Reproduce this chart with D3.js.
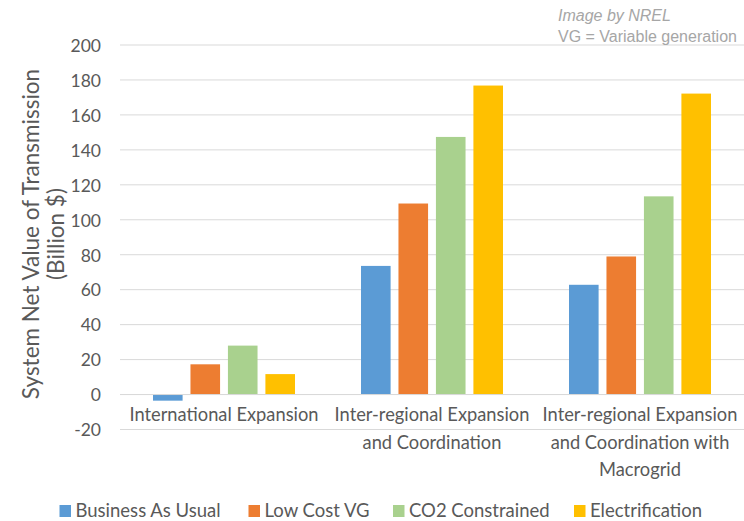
<!DOCTYPE html>
<html>
<head>
<meta charset="utf-8">
<script src="https://cdn.jsdelivr.net/npm/d3@7"></script>
<style>
  html, body { margin: 0; padding: 0; background: #fff; }
  svg { display: block; }
</style>
</head>
<body>
<svg id="chart" width="744" height="521"></svg>
<script>
// Scenario groups (multi-line labels) and series
const categories = [
  ["International Expansion"],
  ["Inter-regional Expansion", "and Coordination"],
  ["Inter-regional Expansion", "and Coordination with", "Macrogrid"]
];
const seriesNames = ["Business As Usual", "Low Cost VG", "CO2 Constrained", "Electrification"];
const seriesColors = ["#5b9bd5", "#ed7d31", "#a9d18e", "#ffc000"];

// Net value of transmission, billion $, per series across the three scenarios
const businessAsUsual = [-3.5, 73.6, 62.8];
const lowCostVG       = [17.3, 109.3, 79.0];
const co2Constrained  = [28.0, 147.4, 113.4];
const electrification = [11.7, 176.8, 172.2];

const yTicks = [-20, 0, 20, 40, 60, 80, 100, 120, 140, 160, 180, 200];

const seriesValues = [businessAsUsual, lowCostVG, co2Constrained, electrification];

const svg = d3.select("#chart");
const font = "Lato, 'Open Sans', sans-serif";
const textColor = "#595959";

const plot = { left: 120, right: 744, top: 45, bottom: 429.5 };

const y = d3.scaleLinear().domain([-20, 200]).range([plot.bottom, plot.top]);

const x0 = d3.scaleBand()
  .domain(d3.range(categories.length))
  .range([plot.left, plot.right])
  .padding(0);

const groupPad = 33;
const x1 = d3.scaleBand()
  .domain(d3.range(seriesNames.length))
  .range([groupPad, x0.bandwidth() - groupPad])
  .paddingInner(0.21)
  .paddingOuter(0);

// Horizontal gridlines
svg.append("g")
  .selectAll("line")
  .data(yTicks)
  .join("line")
  .attr("x1", plot.left)
  .attr("x2", plot.right)
  .attr("y1", d => y(d))
  .attr("y2", d => y(d))
  .attr("stroke", "#d9d9d9")
  .attr("stroke-width", 1);

// Y axis tick labels (plain hyphen for negatives)
const yAxis = d3.axisLeft(y).tickValues(yTicks).tickSize(0).tickPadding(0)
  .tickFormat(d => String(d));
const yg = svg.append("g")
  .attr("transform", `translate(101,0)`)
  .call(yAxis);
yg.select(".domain").remove();
yg.selectAll("text")
  .attr("font-family", font)
  .attr("font-size", 17.5)
  .attr("fill", textColor)
  .attr("dy", "0.36em");

// Bars
const groups = svg.append("g")
  .selectAll("g")
  .data(categories.map((c, i) => i))
  .join("g")
  .attr("transform", i => `translate(${x0(i)},0)`);

groups.selectAll("rect")
  .data(i => seriesValues.map((vals, s) => ({ s, v: vals[i] })))
  .join("rect")
  .attr("x", d => x1(d.s))
  .attr("width", x1.bandwidth())
  .attr("y", d => y(Math.max(0, d.v)))
  .attr("height", d => Math.abs(y(d.v) - y(0)))
  .attr("fill", d => seriesColors[d.s]);

// Zero line on top of bars
svg.append("line")
  .attr("x1", plot.left).attr("x2", plot.right)
  .attr("y1", y(0)).attr("y2", y(0))
  .attr("stroke", "#d9d9d9");

// Category labels
const catLabels = svg.append("g");
categories.forEach((lines, i) => {
  const cx = x0(i) + x0.bandwidth() / 2;
  lines.forEach((line, j) => {
    catLabels.append("text")
      .attr("x", cx)
      .attr("y", 421 + j * 27.5)
      .attr("text-anchor", "middle")
      .attr("font-family", font)
      .attr("font-size", 18.3)
      .attr("fill", textColor)
      .text(line);
  });
});

// Y axis title
const title = svg.append("g")
  .attr("transform", "translate(39,234) rotate(-90)");
title.append("text")
  .attr("text-anchor", "middle")
  .attr("font-family", font)
  .attr("font-size", 22.5)
  .attr("fill", textColor)
  .text("System Net Value of Transmission");
title.append("text")
  .attr("y", 25)
  .attr("text-anchor", "middle")
  .attr("font-family", font)
  .attr("font-size", 22.5)
  .attr("fill", textColor)
  .text("(Billion $)");

// Legend
const legendX = [59.5, 248.5, 393, 574];
const legend = svg.append("g");
seriesNames.forEach((name, i) => {
  legend.append("rect")
    .attr("x", legendX[i])
    .attr("y", 505)
    .attr("width", 11.5)
    .attr("height", 12)
    .attr("fill", seriesColors[i]);
  legend.append("text")
    .attr("x", legendX[i] + 16)
    .attr("y", 516.5)
    .attr("font-family", font)
    .attr("font-size", 18.5)
    .attr("fill", textColor)
    .text(name);
});

// Source note
const note = svg.append("g").attr("font-family", "'Liberation Sans', Arial, sans-serif")
  .attr("font-size", 16).attr("fill", "#a6a6a6");
note.append("text").attr("x", 558).attr("y", 21).attr("font-style", "italic").text("Image by NREL");
note.append("text").attr("x", 558).attr("y", 42).text("VG = Variable generation");
</script>
</body>
</html>
